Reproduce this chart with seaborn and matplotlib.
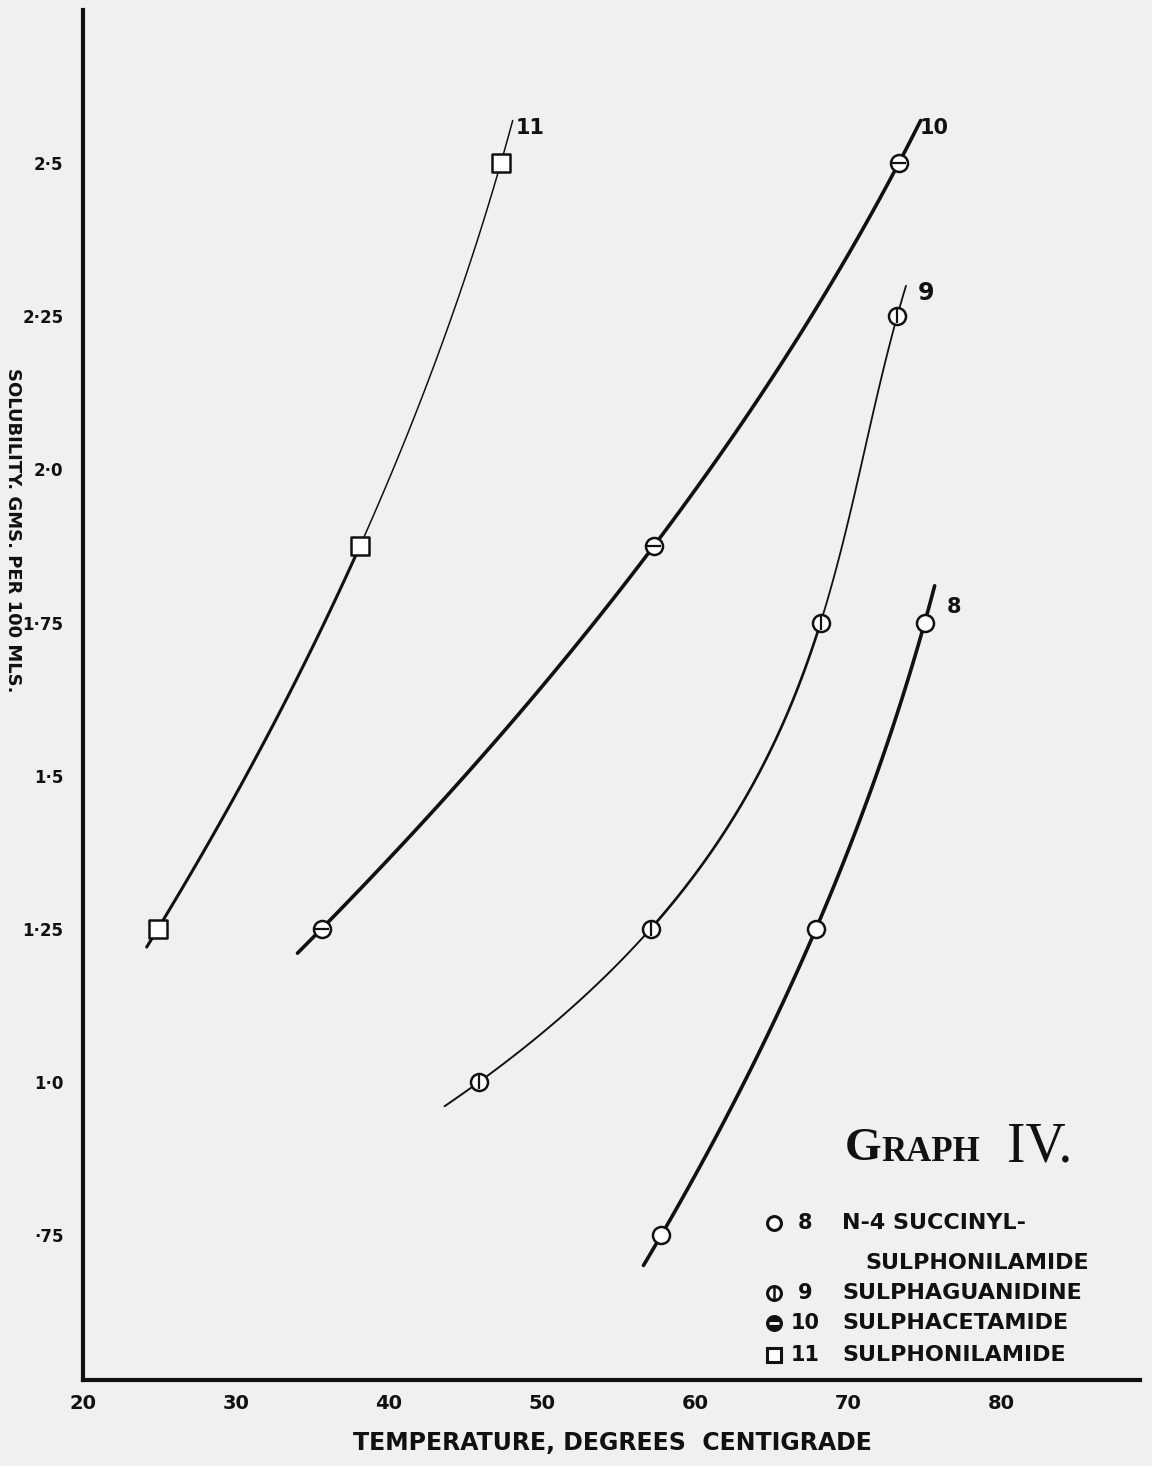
import numpy as np
import pandas as pd
import matplotlib
matplotlib.use("Agg")
import matplotlib.pyplot as plt
import seaborn as sns

# Solubility (g per 100 ml) against temperature (deg C) for four sulpha drugs
temp_8 = [57.8, 67.9, 75.0]
sol_8 = [0.75, 1.25, 1.75]
temp_9 = [45.9, 57.1, 68.2, 73.2]
sol_9 = [1.00, 1.25, 1.75, 2.25]
temp_10 = [35.6, 57.3, 73.3]
sol_10 = [1.25, 1.875, 2.50]
temp_11 = [24.9, 38.1, 47.3]
sol_11 = [1.25, 1.875, 2.50]

series_names = ["8", "9", "10", "11"]
legend_labels = ["N-4 SUCCINYL-", "SULPHAGUANIDINE", "SULPHACETAMIDE", "SULPHONILAMIDE"]
legend_cont = "SULPHONILAMIDE"

x_ticks = [20, 30, 40, 50, 60, 70, 80]
y_ticks = [0.75, 1.0, 1.25, 1.5, 1.75, 2.0, 2.25, 2.5]
y_tick_labels = ["\u00b775", "1\u00b70", "1\u00b725", "1\u00b75", "1\u00b775",
                 "2\u00b70", "2\u00b725", "2\u00b75"]

BG = "#f0f0f0"
INK = "#111111"

sns.set_theme(style="white", rc={"axes.facecolor": BG, "figure.facecolor": BG})
plt.rcParams["font.family"] = ["DejaVu Sans"]

fig = plt.figure(figsize=(11.52, 14.66), dpi=100)
ax = fig.add_axes([0.072, 0.0587, 0.918, 0.9343])
ax.set_xlim(20, 89.1)
ax.set_ylim(0.513, 2.75)


def smooth_curve(temps, sols, y_lo, y_hi):
    """Smooth hand-style curve through the points, temperature as a polynomial in solubility."""
    coef = np.polyfit(sols, temps, len(sols) - 1)
    yy = np.linspace(y_lo, y_hi, 120)
    return pd.DataFrame({"temp": np.polyval(coef, yy), "sol": yy})


# curve extents and line weights
curve_specs = [
    (temp_8, sol_8, [(0.70, 1.81, 2.6)]),
    (temp_9, sol_9, [(0.96, 1.25, 1.4), (1.25, 1.75, 1.9), (1.75, 2.30, 1.3)]),
    (temp_10, sol_10, [(1.21, 2.57, 2.6)]),
    (temp_11, sol_11, [(1.22, 1.875, 2.2), (1.875, 2.57, 1.1)]),
]
for temps, sols, segs in curve_specs:
    for lo, hi, lw in segs:
        df = smooth_curve(temps, sols, lo, hi)
        sns.lineplot(data=df, x="temp", y="sol", sort=False, estimator=None,
                     color=INK, lw=lw, ax=ax)

# markers
pts = pd.DataFrame({
    "temp": temp_8 + temp_9 + temp_10 + temp_11,
    "sol": sol_8 + sol_9 + sol_10 + sol_11,
    "series": ["8"] * 3 + ["9"] * 4 + ["10"] * 3 + ["11"] * 3,
})
circ = pts[pts.series != "11"]
sns.scatterplot(data=circ, x="temp", y="sol", marker="o", s=150,
                facecolor="white", edgecolor=INK, linewidth=1.8, ax=ax, zorder=5)
sq = pts[pts.series == "11"]
sns.scatterplot(data=sq, x="temp", y="sol", marker="s", s=150,
                facecolor="white", edgecolor=INK, linewidth=1.8, ax=ax, zorder=5)
sns.scatterplot(data=pts[pts.series == "9"], x="temp", y="sol", marker="|", s=110,
                color=INK, linewidth=1.6, ax=ax, zorder=6)
sns.scatterplot(data=pts[pts.series == "10"], x="temp", y="sol", marker="_", s=110,
                color=INK, linewidth=1.6, ax=ax, zorder=6)

# curve numbers
hand = dict(color=INK, fontweight="bold", family="DejaVu Sans")
ax.text(49.2, 2.557, "11", fontsize=15, ha="center", va="center", **hand)
ax.text(75.6, 2.557, "10", fontsize=15, ha="center", va="center", **hand)
ax.text(75.1, 2.289, "9", fontsize=17, ha="center", va="center", **hand)
ax.text(76.9, 1.776, "8", fontsize=15, ha="center", va="center", **hand)

# axes styling
for side in ["top", "right"]:
    ax.spines[side].set_visible(False)
for side in ["left", "bottom"]:
    ax.spines[side].set_linewidth(3.0)
    ax.spines[side].set_color(INK)
ax.set_xticks(x_ticks)
ax.set_xticklabels([str(t) for t in x_ticks])
ax.set_yticks(y_ticks)
ax.set_yticklabels(y_tick_labels)
ax.tick_params(axis="both", direction="in", length=10, width=1.8, color=INK,
               labelsize=14, labelcolor=INK)
ax.tick_params(axis="y", pad=14, labelsize=12)
ax.tick_params(axis="x", pad=10)
for lab in ax.get_xticklabels() + ax.get_yticklabels():
    lab.set_fontweight("bold")
ax.set_xlabel("")
ax.set_ylabel("")

fig.text(0.532, 0.016, "TEMPERATURE, DEGREES  CENTIGRADE", ha="center", va="center",
         fontsize=17, fontweight="bold", color=INK)
fig.text(0.0115, 0.638, "SOLUBILITY. GMS. PER 100 MLS.", ha="center", va="center",
         rotation=-90, fontsize=13, fontweight="bold", color=INK)

# title block and key
fig.text(0.733, 0.216, "G", ha="left", va="center", fontsize=34,
         family="Liberation Serif", fontweight="bold", color=INK)
fig.text(0.765, 0.214, "RAPH", ha="left", va="center", fontsize=25,
         family="Liberation Serif", fontweight="bold", color=INK)
fig.text(0.874, 0.217, "IV.", ha="left", va="center", fontsize=40,
         family="Liberation Serif", color=INK)

key_y = [1223, 1293, 1323, 1355]
key_marker = ["o", "o", "o", "s"]
for name, label, ypx, mk in zip(series_names, legend_labels, key_y, key_marker):
    yf = 1 - ypx / 1466
    fc = INK if name == "10" else "white"
    fig.lines.append(plt.Line2D([0.672], [yf], marker=mk, ms=10, mfc=fc, mec=INK,
                                mew=2.2, transform=fig.transFigure))
    if name == "9":
        fig.lines.append(plt.Line2D([0.672], [yf], marker="|", ms=9, mec=INK, mew=1.8,
                                    transform=fig.transFigure))
    if name == "10":
        fig.lines.append(plt.Line2D([0.672], [yf], marker="_", ms=7, mec="white", mew=2,
                                    transform=fig.transFigure))
    fig.text(0.699, yf, name, ha="center", va="center", fontsize=15,
             fontweight="bold", color=INK)
    fig.text(0.731, yf, label, ha="left", va="center", fontsize=16,
             fontweight="bold", color=INK)
fig.text(0.751, 1 - 1263 / 1466, legend_cont, ha="left", va="center", fontsize=16,
         fontweight="bold", color=INK)

fig.savefig("out.png", dpi=100, facecolor=BG)
